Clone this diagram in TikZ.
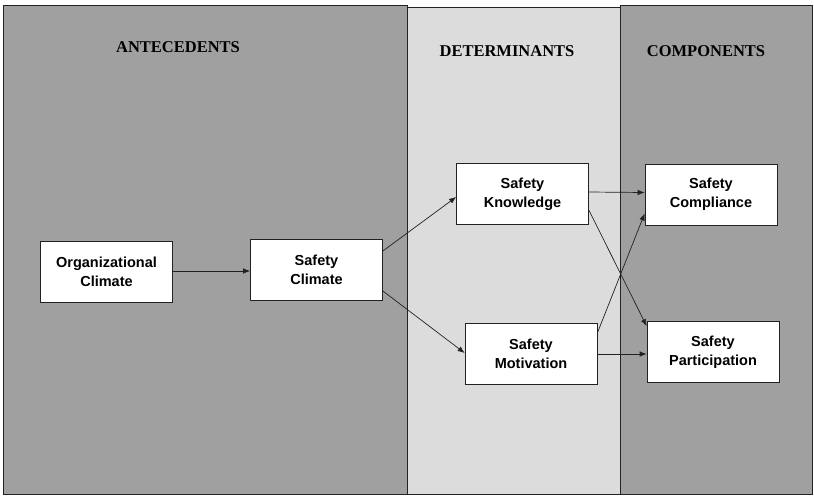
\documentclass[tikz,border=0pt]{standalone}
\usepackage{fontspec}
\setmainfont{Liberation Serif}
\setsansfont{Liberation Sans}
\usetikzlibrary{arrows.meta,calc}
\definecolor{panelA}{HTML}{A0A0A0}
\definecolor{panelB}{HTML}{DCDCDC}
\definecolor{lineC}{HTML}{222222}
\begin{document}
\begin{tikzpicture}[x=1pt,y=-1pt,
  box/.style={draw=lineC, line width=0.7pt, fill=white, minimum width=132pt, minimum height=61pt,
    align=center, inner sep=0pt, font=\sffamily\bfseries\fontsize{14.5}{19}\selectfont},
  head/.style={font=\bfseries\fontsize{16.5}{18}\selectfont, inner sep=0pt},
  panel/.style={draw=lineC, line width=0.6pt},
  arr/.style={draw=lineC, line width=0.7pt, -{Latex[length=7pt,width=5.5pt]}}]
\useasboundingbox (0,0) rectangle (814,496);
\fill[white] (0,0) rectangle (814,496);
\draw[panel, fill=panelA] (3,5) rectangle (407,494);
\draw[panel, fill=panelB] (407,7) rectangle (620,494);
\draw[panel, fill=panelA] (620,5) rectangle (812,494);
\node[head] (hA) at (178,47) {ANTECEDENTS};
\node[head] (hD) at (507,51) {DETERMINANTS};
\node[head] (hC) at (706,51) {COMPONENTS};
\node[box] (oc) at (106.5,272) {Organizational\\Climate};
\node[box] (sc) at (316.5,270) {Safety\\Climate};
\node[box] (sk) at (522.5,194) {Safety\\Knowledge};
\node[box] (sm) at (531,354) {Safety\\Motivation};
\node[box] (co) at (711,194.5) {Safety\\Compliance};
\node[box] (sp) at (713,352) {Safety\\Participation};
\coordinate (ocout) at ([yshift=1pt]oc.east);
\draw[arr] (ocout) -- (sc.west |- ocout);
\draw[arr] ([yshift=19pt]sc.east) -- ([yshift=-3pt]sk.west);
\draw[arr] ([yshift=-21pt]sc.east) -- ([yshift=1pt]sm.west);
\draw[arr] ([yshift=2pt]sk.east) -- ([yshift=2pt]co.west);
\draw[arr] ([yshift=-16pt]sk.east) -- ([yshift=-5pt]sp.north west);
\draw[arr] ([yshift=21pt]sm.east) -- ([yshift=-19pt]co.west);
\draw[arr] (sm.east) -- ([yshift=-2pt]sp.west);
\end{tikzpicture}
\end{document}
